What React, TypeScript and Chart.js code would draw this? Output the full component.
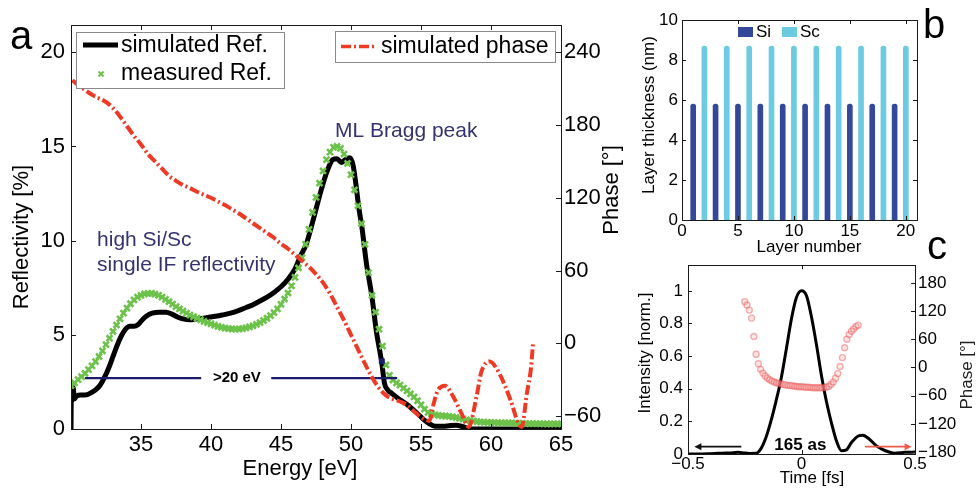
import React, { useEffect, useRef } from "react";
import { Chart, registerables } from "chart.js";

Chart.register(...registerables);

const SANS = "'Liberation Sans', Arial, Helvetica, sans-serif";

// ---------------- Panel a : reflectivity & phase ----------------
const simEnergy = [30.0, 30.03, 30.08, 30.15, 30.25, 30.4, 30.7, 31.0, 31.5, 31.8, 32.1, 32.4, 32.7, 33.0, 33.3, 33.6, 33.9, 34.2, 34.5, 34.8, 35.1, 35.4, 35.8, 36.3, 36.8, 37.2, 37.6, 38.0, 38.5, 39.0, 39.6, 40.2, 40.8, 41.4, 42.0, 42.5, 43.0, 43.5, 44.0, 44.5, 45.0, 45.5, 46.0, 46.4, 46.8, 47.3, 47.8, 48.3, 48.7, 49.0, 49.3, 49.6, 49.9, 50.15, 50.35, 50.55, 50.8, 51.1, 51.5, 51.8, 52.2, 52.4, 52.65, 52.9, 53.5, 54.0, 54.7, 55.2, 55.6, 56.0, 56.6, 57.0, 57.5, 58.0, 58.4, 59.0, 65.0];
const simReflectivity = [0.0, 2.3, 1.5, 2.2, 1.6, 1.75, 1.8, 1.8, 1.95, 2.1, 2.35, 2.75, 3.25, 3.85, 4.45, 4.95, 5.3, 5.45, 5.45, 5.55, 5.8, 6.0, 6.15, 6.2, 6.2, 6.1, 5.95, 5.85, 5.8, 5.85, 5.9, 5.97, 6.05, 6.15, 6.3, 6.45, 6.6, 6.8, 7.0, 7.25, 7.55, 7.95, 8.5, 9.2, 9.8, 11.1, 12.5, 13.7, 14.3, 14.35, 14.15, 14.3, 14.4, 14.0, 13.0, 11.8, 10.6, 8.8, 7.0, 5.25, 3.5, 2.4, 2.05, 1.9, 1.55, 1.3, 0.85, 0.5, 0.28, 0.15, 0.14, 0.17, 0.2, 0.12, 0.03, 0.0, 0.0];

const measEnergy = [
  30, 30.25, 30.5, 30.75, 31, 31.25, 31.5, 31.75, 32, 32.25, 32.5, 32.75, 33, 33.25, 33.5, 33.75,
  34, 34.25, 34.5, 34.75, 35, 35.25, 35.5, 35.75, 36, 36.25, 36.5, 36.75, 37, 37.25, 37.5, 37.75,
  38, 38.25, 38.5, 38.75, 39, 39.25, 39.5, 39.75, 40, 40.25, 40.5, 40.75, 41, 41.25, 41.5, 41.75,
  42, 42.25, 42.5, 42.75, 43, 43.25, 43.5, 43.75, 44, 44.25, 44.5, 44.75, 45, 45.25, 45.5, 45.75,
  46, 46.25, 46.5, 46.75, 47, 47.25, 47.5, 47.75, 48, 48.25, 48.5, 48.75, 49, 49.25, 49.5, 49.75,
  50, 50.25, 50.5, 50.75, 51, 51.25, 51.5, 51.75, 52, 52.25, 52.5, 52.75, 53, 53.25, 53.5, 53.75,
  54, 54.25, 54.5, 54.75, 55, 55.25, 55.5, 55.75, 56, 56.25, 56.5, 56.75, 57, 57.25, 57.5, 57.75,
  58, 58.25, 58.5, 58.75, 59, 59.25, 59.5, 59.75, 60, 60.25, 60.5, 60.75, 61, 61.25, 61.5, 61.75,
  62, 62.25, 62.5, 62.75, 63, 63.25, 63.5, 63.75, 64, 64.25, 64.5, 64.75, 65,
];
const measReflectivity = [
  2.30, 2.45, 2.62, 2.78, 2.95, 3.15, 3.35, 3.58, 3.85, 4.15, 4.48, 4.82, 5.18, 5.52, 5.85, 6.15,
  6.42, 6.65, 6.85, 7.00, 7.10, 7.17, 7.20, 7.20, 7.16, 7.10, 7.00, 6.88, 6.76, 6.63, 6.50, 6.38,
  6.26, 6.15, 6.05, 5.96, 5.88, 5.80, 5.72, 5.65, 5.58, 5.51, 5.45, 5.40, 5.36, 5.33, 5.31, 5.30,
  5.31, 5.33, 5.37, 5.42, 5.48, 5.56, 5.65, 5.76, 5.88, 6.02, 6.18, 6.38, 6.62, 6.90, 7.22, 7.60,
  8.05, 8.55, 9.10, 9.80, 10.60, 11.50, 12.30, 13.05, 13.70, 14.30, 14.70, 14.95, 15.00, 14.90, 14.60, 14.10,
  13.50, 12.70, 11.85, 10.90, 9.80, 8.30, 7.10, 6.20, 5.30, 4.40, 3.40, 2.85, 2.60, 2.45, 2.33, 2.17,
  2.02, 1.87, 1.70, 1.50, 1.28, 1.05, 0.88, 0.80, 0.75, 0.72, 0.70, 0.69, 0.67, 0.64, 0.61, 0.57,
  0.53, 0.49, 0.45, 0.42, 0.39, 0.37, 0.36, 0.35, 0.34, 0.34, 0.33, 0.33, 0.32, 0.32, 0.31, 0.31,
  0.30, 0.30, 0.29, 0.29, 0.28, 0.28, 0.28, 0.27, 0.27, 0.27, 0.27, 0.27, 0.27,
];

const phaseEnergy = [30.1, 30.5, 31, 31.5, 32, 32.5, 33, 33.5, 34, 34.5, 35, 35.5, 36, 36.5, 37, 37.5, 38, 38.5, 39, 39.5, 40, 40.5, 41, 41.5, 42, 42.5, 43, 43.5, 44, 44.5, 45, 45.5, 46, 46.5, 47, 47.5, 48, 48.5, 49, 49.5, 50, 50.5, 51, 51.5, 52, 52.5, 53, 53.5, 54, 54.5, 55, 55.6, 55.9, 56.2, 56.7, 57.3, 57.9, 58.4, 59.0, 59.3, 59.9, 60.6, 61.4, 61.95, 62.2, 62.55, 62.86, 63.0];
const simPhase = [217, 213, 209, 205, 202, 199, 194, 187, 179, 171, 164, 156, 150, 144, 138, 134, 130.5, 128, 125, 122.5, 120, 117, 114, 110.5, 107, 103, 99, 95, 91, 87, 82, 78, 73, 68, 63, 57, 50, 41, 30, 19, 7, -5, -17, -28, -37, -43, -46, -48, -51, -56, -61, -64, -50, -39, -35, -44, -58, -69, -42, -24, -15, -25, -47, -66, -69, -42, -20, 0];

const bandLeftEnergy = [31.0, 39.3];
const bandRightEnergy = [44.3, 53.3];
const bandLevel = [2.7, 2.7];
const bandEdgeEnergy = [52.2];
const bandEdgeReflectivity = [3.6];

const energyTicks = [35, 40, 45, 50, 55, 60, 65];
const reflTicks = [0, 5, 10, 15, 20];
const phaseTicksA = [-60, 0, 60, 120, 180, 240];

// ---------------- Panel b : layer thickness ----------------
const siLayers = [1, 3, 5, 7, 9, 11, 13, 15, 17, 19];
const siThickness = [5.8, 5.8, 5.8, 5.8, 5.8, 5.8, 5.8, 5.8, 5.8, 5.8];
const scLayers = [2, 4, 6, 8, 10, 12, 14, 16, 18, 20];
const scThickness = [8.7, 8.7, 8.7, 8.7, 8.7, 8.7, 8.7, 8.7, 8.7, 8.7];
const layerTicks = [0, 5, 10, 15, 20];
const thicknessTicks = [0, 2, 4, 6, 8, 10];

// ---------------- Panel c : attosecond pulse ----------------
const timeFs = [-0.5, -0.45, -0.4, -0.35, -0.3, -0.28, -0.26, -0.23, -0.2, -0.18, -0.157, -0.135, -0.113, -0.09, -0.066, -0.044, -0.022, 0, 0.022, 0.044, 0.066, 0.088, 0.11, 0.132, 0.154, 0.176, 0.198, 0.22, 0.25, 0.27, 0.3, 0.33, 0.37, 0.41, 0.455, 0.5];
const intensity = [0.0, 0.0, 0.002, 0.005, 0.008, 0.01, 0.008, 0.003, 0.004, 0.03, 0.1, 0.2, 0.32, 0.46, 0.65, 0.83, 0.96, 1.0, 0.97, 0.84, 0.67, 0.48, 0.32, 0.19, 0.08, 0.02, 0.025, 0.07, 0.11, 0.115, 0.09, 0.05, 0.02, 0.005, 0.01, 0.012];
const phaseTime = [
  -0.25, -0.24, -0.23, -0.22, -0.21, -0.2, -0.19, -0.18, -0.17, -0.16,
  -0.15, -0.14, -0.13, -0.12, -0.11, -0.1, -0.09, -0.08, -0.07, -0.06,
  -0.05, -0.04, -0.03, -0.02, -0.01, 0, 0.01, 0.02, 0.03, 0.04,
  0.05, 0.06, 0.07, 0.08, 0.09, 0.1, 0.11, 0.12, 0.13, 0.14,
  0.15, 0.16, 0.17, 0.18, 0.19, 0.2, 0.21, 0.22, 0.23, 0.24, 0.25,
];
const pulsePhase = [
  140, 133, 122, 105, 66, 28, 8, -4, -12, -18,
  -23, -26, -29, -31, -33, -34, -35, -36, -37, -38,
  -38.5, -39, -40, -40.5, -41, -41, -41.5, -42, -42, -42.5,
  -43, -43, -43, -43, -43, -42.5, -42, -40, -36, -31,
  -23, -13, 2, 21, 42, 60, 70, 77, 82, 87, 90,
];
const timeTicks = [-0.5, 0, 0.5];
const intensityTicks = [0, 0.2, 0.4, 0.6, 0.8, 1];
const phaseTicksC = [-180, -120, -60, 0, 60, 120, 180];

// ---------------- helpers ----------------
type Pt = { x: number; y: number };
const zip = (xs: number[], ys: number[]): Pt[] => xs.map((x, i) => ({ x, y: ys[i] }));
const minus = (v: any) => String(v).replace("-", "\u2212");
const fixedTicks = (vals: number[]) => (scale: any) => {
  scale.ticks = vals.map((value) => ({ value }));
};

function axisOpts(position: string, min: number, max: number, vals: number[], size: number, padding: number, fit: (s: any) => void): any {
  return {
    type: "linear",
    position,
    min,
    max,
    offset: false,
    afterBuildTicks: fixedTicks(vals),
    afterFit: fit,
    grid: { display: false, drawTicks: false },
    border: { display: false },
    ticks: {
      font: { family: SANS, size },
      color: "#000",
      padding,
      maxRotation: 0,
      autoSkip: false,
      callback: (v: any) => minus(v),
    },
  };
}

function txt(ctx: CanvasRenderingContext2D, s: string, x: number, y: number, size: number, o: any = {}) {
  const { color = "#000", align = "left", baseline = "middle", rot = 0, weight = "normal", family = SANS } = o;
  ctx.save();
  ctx.translate(x, y);
  if (rot) ctx.rotate(rot);
  ctx.font = `${weight} ${size}px ${family}`;
  ctx.fillStyle = color;
  ctx.textAlign = align;
  ctx.textBaseline = baseline;
  ctx.fillText(s, 0, 0);
  ctx.restore();
}

function frame(chart: any, spec: [string, number[], string][], len = 5) {
  const { ctx, chartArea: a } = chart;
  ctx.save();
  ctx.strokeStyle = "#1a1a1a";
  ctx.lineWidth = 1;
  ctx.strokeRect(Math.round(a.left) + 0.5, Math.round(a.top) + 0.5, Math.round(a.right - a.left), Math.round(a.bottom - a.top));
  ctx.beginPath();
  for (const [id, vals, side] of spec) {
    const s = chart.scales[id];
    for (const v of vals) {
      const p = Math.round(s.getPixelForValue(v)) + 0.5;
      if (side === "bottom") { ctx.moveTo(p, a.bottom); ctx.lineTo(p, a.bottom - len); }
      if (side === "top") { ctx.moveTo(p, a.top); ctx.lineTo(p, a.top + len); }
      if (side === "left") { ctx.moveTo(a.left, p); ctx.lineTo(a.left + len, p); }
      if (side === "right") { ctx.moveTo(a.right, p); ctx.lineTo(a.right - len, p); }
    }
  }
  ctx.stroke();
  ctx.restore();
}

function arrow(ctx: CanvasRenderingContext2D, x1: number, y1: number, x2: number, y2: number, color: string) {
  const ang = Math.atan2(y2 - y1, x2 - x1);
  const h = 7;
  ctx.save();
  ctx.strokeStyle = color;
  ctx.fillStyle = color;
  ctx.lineWidth = 1.6;
  ctx.beginPath();
  ctx.moveTo(x1, y1);
  ctx.lineTo(x2 - Math.cos(ang) * h * 0.8, y2 - Math.sin(ang) * h * 0.8);
  ctx.stroke();
  ctx.beginPath();
  ctx.moveTo(x2, y2);
  ctx.lineTo(x2 - h * Math.cos(ang) + 3.5 * Math.sin(ang), y2 - h * Math.sin(ang) - 3.5 * Math.cos(ang));
  ctx.lineTo(x2 - h * Math.cos(ang) - 3.5 * Math.sin(ang), y2 - h * Math.sin(ang) + 3.5 * Math.cos(ang));
  ctx.closePath();
  ctx.fill();
  ctx.restore();
}

const BLACK = "#000000";
const GREEN = "#6cc24a";
const RED = "#ee3a24";
const NAVY = "#1c1c6b";
const NAVY_TEXT = "#34336f";
const SI_BLUE = "#34489a";
const SC_CYAN = "#6ccbe0";
const DASH_DOT = [10, 3, 2, 3];

const basePlugins = { legend: { display: false }, tooltip: { enabled: false } };

// ---------------- Panel a config ----------------
function configA(): any {
  const plugin = {
    id: "panelA",
    afterDraw(chart: any) {
      const { ctx, chartArea: a, scales } = chart;
      const x = scales.x, y = scales.y;
      frame(chart, [["x", energyTicks, "bottom"], ["x", energyTicks, "top"], ["y", reflTicks, "left"], ["y2", phaseTicksA, "right"]]);
      // axis titles
      txt(ctx, "Reflectivity [%]", 22, 237, 22, { align: "center", rot: -Math.PI / 2 });
      txt(ctx, "Phase [\u00b0]", 612, 190, 22, { align: "center", rot: -Math.PI / 2 });
      txt(ctx, "Energy [eV]", 300, 469, 22, { align: "center" });
      // annotations
      txt(ctx, "ML Bragg peak", x.getPixelForValue(48.86), y.getPixelForValue(15.8), 21, { color: NAVY_TEXT });
      txt(ctx, "high Si/Sc", x.getPixelForValue(31.86), y.getPixelForValue(10.03), 21, { color: NAVY_TEXT });
      txt(ctx, "single IF reflectivity", x.getPixelForValue(31.86), y.getPixelForValue(8.7), 21, { color: NAVY_TEXT });
      txt(ctx, ">20 eV", x.getPixelForValue(41.85), y.getPixelForValue(2.7), 15, { align: "center", weight: "bold" });
      // legend 1
      ctx.save();
      const l1x = a.left + 5, l1y = a.top + 7, l1w = 208, l1h = 56;
      ctx.fillStyle = "#fff";
      ctx.strokeStyle = "#8a8a8a";
      ctx.lineWidth = 1;
      ctx.fillRect(l1x, l1y, l1w, l1h);
      ctx.strokeRect(l1x + 0.5, l1y + 0.5, l1w, l1h);
      ctx.strokeStyle = BLACK;
      ctx.lineWidth = 5;
      ctx.beginPath();
      ctx.moveTo(l1x + 7, l1y + 13);
      ctx.lineTo(l1x + 42, l1y + 13);
      ctx.stroke();
      ctx.strokeStyle = GREEN;
      ctx.lineWidth = 2;
      const mx = l1x + 25, my = l1y + 42;
      ctx.beginPath();
      ctx.moveTo(mx - 2.5, my - 2.5); ctx.lineTo(mx + 2.5, my + 2.5);
      ctx.moveTo(mx - 2.5, my + 2.5); ctx.lineTo(mx + 2.5, my - 2.5);
      ctx.stroke();
      ctx.restore();
      txt(ctx, "simulated Ref.", l1x + 45, l1y + 14, 23);
      txt(ctx, "measured Ref.", l1x + 45, l1y + 42, 23);
      // legend 2
      ctx.save();
      const l2r = a.right - 6, l2y = a.top + 6, l2w = 220, l2h = 31;
      const l2x = l2r - l2w;
      ctx.fillStyle = "#fff";
      ctx.strokeStyle = "#8a8a8a";
      ctx.lineWidth = 1;
      ctx.fillRect(l2x, l2y, l2w, l2h);
      ctx.strokeRect(l2x + 0.5, l2y + 0.5, l2w, l2h);
      ctx.strokeStyle = RED;
      ctx.lineWidth = 3.5;
      ctx.setLineDash(DASH_DOT);
      ctx.beginPath();
      ctx.moveTo(l2x + 6, l2y + 15.5);
      ctx.lineTo(l2x + 42, l2y + 15.5);
      ctx.stroke();
      ctx.restore();
      txt(ctx, "simulated phase", l2x + 46, l2y + 16, 23);
      // panel letter
      txt(ctx, "a", 10, 49, 40, { baseline: "alphabetic" });
    },
  };
  return {
    type: "scatter",
    data: {
      datasets: [
        { label: "simulated phase", data: zip(phaseEnergy, simPhase), yAxisID: "y2", showLine: true, borderColor: RED, borderWidth: 4, borderDash: DASH_DOT, pointRadius: 0, cubicInterpolationMode: "monotone" },
        { label: "bandwidth", data: zip(bandLeftEnergy, bandLevel), yAxisID: "y", showLine: true, borderColor: NAVY, borderWidth: 2.2, pointRadius: 0 },
        { label: "bandwidth", data: zip(bandRightEnergy, bandLevel), yAxisID: "y", showLine: true, borderColor: NAVY, borderWidth: 2.2, pointRadius: 0 },
        { label: "edge", data: zip(bandEdgeEnergy, bandEdgeReflectivity), yAxisID: "y", showLine: false, pointStyle: "rect", pointRadius: 3.5, backgroundColor: NAVY, borderColor: NAVY },
        { label: "measured Ref.", data: zip(measEnergy, measReflectivity), yAxisID: "y", showLine: false, pointStyle: "crossRot", pointRadius: 4.2, borderColor: GREEN, backgroundColor: GREEN, borderWidth: 2.6 },
        { label: "simulated Ref.", data: zip(simEnergy, simReflectivity), yAxisID: "y", showLine: true, borderColor: BLACK, borderWidth: 5, pointRadius: 0, borderJoinStyle: "round", cubicInterpolationMode: "monotone" },
      ],
    },
    options: {
      responsive: false,
      animation: false,
      events: [],
      layout: { padding: { top: 25, left: 0, right: 0, bottom: 0 } },
      plugins: basePlugins,
      scales: {
        x: axisOpts("bottom", 30, 65, energyTicks, 22, 3, (s) => { s.height = 59; }),
        y: axisOpts("left", 0, 21.45, reflTicks, 22, 6, (s) => { s.width = 71; }),
        y2: axisOpts("right", -70.7, 262.5, phaseTicksA, 22, 3, (s) => { s.width = 79; }),
      },
    },
    plugins: [plugin],
  };
}

// ---------------- Panel b config ----------------
function configB(): any {
  const plugin = {
    id: "panelB",
    afterDraw(chart: any) {
      const { ctx } = chart;
      frame(chart, [["x", layerTicks, "bottom"], ["x", layerTicks, "top"], ["y", thicknessTicks, "left"], ["y", thicknessTicks, "right"]], 4);
      txt(ctx, "Layer thickness (nm)", 29, 115, 17, { align: "center", rot: -Math.PI / 2 });
      txt(ctx, "Layer number", 189, 247, 17, { align: "center" });
      // legend
      ctx.save();
      ctx.fillStyle = SI_BLUE;
      ctx.fillRect(118, 27, 15, 10);
      ctx.fillStyle = SC_CYAN;
      ctx.fillRect(162, 27, 15, 10);
      ctx.restore();
      txt(ctx, "Si", 136, 32, 17);
      txt(ctx, "Sc", 180, 32, 17);
      txt(ctx, "b", 303, 38, 40, { baseline: "alphabetic" });
      txt(ctx, "c", 307, 259, 40, { baseline: "alphabetic" });
    },
  };
  return {
    type: "bar",
    data: {
      datasets: [
        { label: "Si", data: zip(siLayers, siThickness), backgroundColor: SI_BLUE, barThickness: 5, grouped: false, borderRadius: { topLeft: 2.5, topRight: 2.5, bottomLeft: 0, bottomRight: 0 }, borderSkipped: false },
        { label: "Sc", data: zip(scLayers, scThickness), backgroundColor: SC_CYAN, barThickness: 5, grouped: false, borderRadius: { topLeft: 2.5, topRight: 2.5, bottomLeft: 0, bottomRight: 0 }, borderSkipped: false },
      ],
    },
    options: {
      responsive: false,
      animation: false,
      events: [],
      layout: { padding: { top: 20, left: 0, right: 59, bottom: 0 } },
      plugins: basePlugins,
      scales: {
        x: axisOpts("bottom", 0, 21, layerTicks, 17, 1, (s) => { s.height = 42; }),
        y: axisOpts("left", 0, 10, thicknessTicks, 17, 4, (s) => { s.width = 62; }),
      },
    },
    plugins: [plugin],
  };
}

// ---------------- Panel c config ----------------
function configC(): any {
  const plugin = {
    id: "panelC",
    afterDraw(chart: any) {
      const { ctx, scales } = chart;
      const x = scales.x, y = scales.y;
      frame(chart, [["x", timeTicks, "bottom"], ["x", timeTicks, "top"], ["y", intensityTicks, "left"], ["y2", phaseTicksC, "right"]], 4);
      txt(ctx, "Intensity [norm.]", 25, 103, 17, { align: "center", rot: -Math.PI / 2 });
      txt(ctx, "Phase [\u00b0]", 347, 125, 17, { align: "center", rot: -Math.PI / 2, color: "#222" });
      txt(ctx, "Time [fs]", 192, 228, 17, { align: "center" });
      txt(ctx, "165 as", x.getPixelForValue(-0.005), y.getPixelForValue(0.055), 17, { align: "center", weight: "bold" });
      const ay = y.getPixelForValue(0.045);
      arrow(ctx, x.getPixelForValue(-0.265), ay, x.getPixelForValue(-0.472), ay, "#111");
      arrow(ctx, x.getPixelForValue(0.28), ay, x.getPixelForValue(0.485), ay, "#ef5a4a");
    },
  };
  return {
    type: "scatter",
    data: {
      datasets: [
        { label: "phase", data: zip(phaseTime, pulsePhase), yAxisID: "y2", showLine: false, pointStyle: "circle", pointRadius: 3, borderWidth: 1.4, borderColor: "rgba(232,72,72,0.42)", backgroundColor: "rgba(255,180,180,0.3)" },
        { label: "intensity", data: zip(timeFs, intensity), yAxisID: "y", showLine: true, borderColor: BLACK, borderWidth: 3, pointRadius: 0, cubicInterpolationMode: "monotone" },
      ],
    },
    options: {
      responsive: false,
      animation: false,
      events: [],
      layout: { padding: { top: 12, left: 0, right: 0, bottom: 0 } },
      plugins: basePlugins,
      scales: {
        x: axisOpts("bottom", -0.5, 0.5, timeTicks, 17, 0, (s) => { s.height = 34; }),
        y: axisOpts("left", 0, 1.157, intensityTicks, 17, 5, (s) => { s.width = 68; }),
        y2: axisOpts("right", -184, 217.5, phaseTicksC, 17, 3, (s) => { s.width = 61; }),
      },
    },
    plugins: [plugin],
  };
}

export default function App() {
  const aRef = useRef<HTMLCanvasElement>(null);
  const bRef = useRef<HTMLCanvasElement>(null);
  const cRef = useRef<HTMLCanvasElement>(null);

  useEffect(() => {
    const charts = [
      new Chart(aRef.current as HTMLCanvasElement, configA()),
      new Chart(bRef.current as HTMLCanvasElement, configB()),
      new Chart(cRef.current as HTMLCanvasElement, configC()),
    ];
    return () => charts.forEach((c) => c.destroy());
  }, []);

  return (
    <div style={{ position: "fixed", left: 0, top: 0, width: 976, height: 488, background: "#fff", overflow: "hidden" }}>
      <canvas ref={aRef} width={640} height={488} style={{ position: "absolute", left: 0, top: 0, width: 640, height: 488 }} />
      <canvas ref={bRef} width={356} height={262} style={{ position: "absolute", left: 620, top: 0, width: 356, height: 262 }} />
      <canvas ref={cRef} width={356} height={238} style={{ position: "absolute", left: 620, top: 250, width: 356, height: 238 }} />
    </div>
  );
}
